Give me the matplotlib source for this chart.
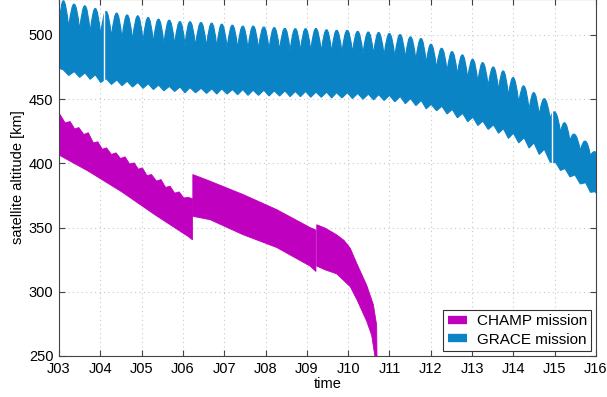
import numpy as np
import matplotlib.pyplot as plt
from matplotlib.path import Path
from matplotlib.patches import PathPatch
from matplotlib.lines import Line2D

# ---- values ----
# GRACE: one entry per hump of the altitude band (decimal years, km)
grace_t = [2003.10, 2003.37, 2003.63, 2003.88, 2004.14, 2004.40, 2004.65, 2004.91,
           2005.16, 2005.41, 2005.67, 2005.93, 2006.17, 2006.44, 2006.70, 2006.94,
           2007.20, 2007.45, 2007.70, 2007.96, 2008.21, 2008.47, 2008.72, 2008.97,
           2009.22, 2009.48, 2009.72, 2009.98, 2010.23, 2010.49, 2010.74, 2011.00,
           2011.26, 2011.51, 2011.77, 2012.01, 2012.27, 2012.52, 2012.77, 2013.02,
           2013.26, 2013.52, 2013.76, 2014.00, 2014.26, 2014.50, 2014.75, 2015.03,
           2015.25, 2015.49, 2015.75, 2015.98]
grace_peak = [526.7, 524.1, 522.8, 520.7, 518.4, 517.1, 515.7, 515.0, 513.7, 512.4,
              511.6, 510.6, 510.4, 509.8, 509.3, 508.5, 507.7, 507.1, 507.1, 506.4,
              505.9, 505.3, 505.1, 505.1, 505.1, 504.2, 503.8, 503.8, 503.0, 502.5,
              502.0, 501.2, 500.4, 498.6, 497.3, 492.8, 489.7, 487.1, 484.5, 481.1,
              478.5, 475.1, 472.0, 466.8, 460.3, 455.1, 450.4, 439.5, 431.5, 422.5,
              417.3, 409.0]
# top of the band between two humps
grace_notch = [506.0, 504.0, 502.0, 500.0, 498.5, 497.0, 496.0, 495.0, 494.0, 493.0,
               492.5, 492.0, 491.5, 491.0, 490.5, 490.0, 489.5, 489.0, 489.0, 488.5,
               488.0, 487.5, 487.5, 487.5, 487.0, 486.5, 486.5, 486.0, 485.5, 485.0,
               484.0, 483.0, 482.0, 480.5, 478.0, 474.0, 471.5, 469.0, 466.0, 463.0,
               460.0, 457.0, 452.5, 447.0, 441.5, 437.5, 435.0, 424.0, 417.5, 410.0,
               406.0]
# bottom of the band under each hump and between humps
grace_base = [473.0, 471.5, 470.5, 469.0, 466.0, 465.0, 464.0, 463.0, 462.0, 461.0,
              460.0, 459.5, 459.0, 458.5, 458.0, 458.0, 457.5, 457.5, 457.0, 457.0,
              456.5, 456.5, 456.0, 456.0, 455.5, 455.5, 455.0, 455.0, 454.5, 454.0,
              453.5, 453.0, 452.0, 450.5, 449.0, 446.0, 444.5, 442.0, 439.0, 436.0,
              433.0, 430.0, 427.0, 423.5, 420.0, 416.0, 411.0, 400.5, 396.0, 391.0,
              385.0, 378.0]
grace_spike = [468.5, 467.0, 465.5, 463.0, 461.5, 460.5, 459.5, 458.5, 457.5, 456.5,
               456.0, 455.0, 455.0, 454.5, 454.0, 454.0, 453.5, 453.0, 453.0, 452.5,
               452.5, 452.0, 452.0, 451.5, 451.5, 451.0, 451.0, 450.5, 450.0, 449.5,
               449.0, 448.0, 446.5, 445.0, 442.5, 441.0, 438.5, 435.5, 432.5, 429.5,
               426.5, 423.5, 419.5, 416.0, 412.0, 407.0, 401.0, 394.5, 389.5, 384.0,
               377.5]
grace_ends_t = [2003.0, 2016.1]
grace_ends_top = [507.0, 403.0]
grace_ends_low = [474.0, 372.0]
grace_gaps = [2004.08, 2014.94]

# CHAMP: three pieces separated by orbit raising manoeuvres
champ_top_t = [[2003.00, 2003.02, 2003.15, 2003.27, 2003.38, 2003.48, 2003.60, 2003.71,
                2003.83, 2003.94, 2004.05, 2004.15, 2004.27, 2004.38, 2004.49, 2004.60,
                2004.71, 2004.82, 2004.92, 2005.02, 2005.13, 2005.24, 2005.36, 2005.47,
                2005.58, 2005.69, 2005.80, 2005.91, 2006.02, 2006.12, 2006.23],
               [2006.24, 2006.66, 2007.46, 2008.27, 2009.08, 2009.22],
               [2009.24, 2009.45, 2009.72, 2009.90, 2010.05, 2010.21, 2010.45, 2010.61,
                2010.69, 2010.70]]
champ_top = [[436.0, 438.3, 431.5, 432.6, 426.8, 427.9, 422.5, 423.9, 416.0, 416.8,
              411.0, 412.1, 407.0, 408.2, 403.8, 405.1, 399.5, 400.4, 395.5, 396.5,
              390.5, 391.3, 386.2, 387.4, 381.3, 382.2, 376.8, 377.8, 373.0, 373.6, 372.5],
             [391.3, 386.1, 375.7, 364.0, 350.0, 348.0],
             [352.2, 349.5, 344.4, 340.0, 334.0, 322.0, 305.0, 290.0, 274.0, 245.0]]
champ_low_t = [[2003.00, 2003.71, 2004.52, 2005.32, 2006.13, 2006.23],
               [2006.24, 2006.66, 2007.46, 2008.27, 2009.08, 2009.22],
               [2009.24, 2009.45, 2009.72, 2010.05, 2010.21, 2010.45, 2010.57, 2010.67]]
champ_low = [[406.5, 393.9, 377.8, 360.0, 343.0, 340.5],
             [358.8, 356.1, 344.4, 334.5, 320.0, 315.8],
             [320.0, 317.0, 314.0, 304.0, 294.0, 277.0, 266.0, 245.0]]

xtick_pos = [2003, 2004, 2005, 2006, 2007, 2008, 2009, 2010, 2011, 2012, 2013, 2014, 2015, 2016]
xtick_labels = ['J03', 'J04', 'J05', 'J06', 'J07', 'J08', 'J09', 'J10', 'J11', 'J12',
                'J13', 'J14', 'J15', 'J16']
ytick_pos = [250, 300, 350, 400, 450, 500]
series_names = ['CHAMP mission', 'GRACE mission']
champ_color = '#bf00bf'
grace_color = '#0b84c6'

plt.rcParams['font.family'] = ['Liberation Sans', 'DejaVu Sans']

fig = plt.figure(figsize=(6.07, 3.97), dpi=100)
ax = fig.add_axes([0.0972, 0.1033, 0.8847, 0.8992])

# CHAMP band
for tt, top, lt, low in zip(champ_top_t, champ_top, champ_low_t, champ_low):
    ax.fill(np.r_[tt, lt[::-1]], np.r_[top, low[::-1]], color=champ_color, lw=0.6, zorder=2)

# GRACE band: humps drawn as quadratic curves through the peak values
gt = np.array(grace_t)
mid = (gt[:-1] + gt[1:]) / 2
top_x = np.r_[grace_ends_t[0], mid, grace_ends_t[1]]
top_y = np.r_[grace_ends_top[0], grace_notch, grace_ends_top[1]]
verts = [(top_x[0], top_y[0])]
codes = [Path.MOVETO]
for i in range(len(gt)):
    ctrl = 2 * grace_peak[i] - (top_y[i] + top_y[i + 1]) / 2
    verts += [(gt[i], ctrl), (top_x[i + 1], top_y[i + 1])]
    codes += [Path.CURVE3, Path.CURVE3]
low_pts = [(grace_ends_t[0], grace_ends_low[0])]
for i in range(len(gt)):
    low_pts.append((gt[i], grace_base[i]))
    if i < len(mid):
        low_pts.append((mid[i], grace_spike[i]))
low_pts.append((grace_ends_t[1], grace_ends_low[1]))
for p in reversed(low_pts):
    verts.append(p)
    codes.append(Path.LINETO)
verts.append(verts[0])
codes.append(Path.CLOSEPOLY)
ax.add_patch(PathPatch(Path(verts, codes), facecolor=grace_color, edgecolor=grace_color,
                       lw=0.8, zorder=2))

# data gaps in the GRACE record
lx = [p[0] for p in low_pts]
ly = [p[1] for p in low_pts]
ax.vlines(grace_gaps, np.interp(grace_gaps, lx, ly) - 6, max(grace_peak) + 5,
          colors='white', lw=1.0, zorder=2.2)

ax.set_xlim(2003, 2016)
ax.set_ylim(250, 528)
ax.set_xticks(xtick_pos)
ax.set_xticklabels(xtick_labels)
ax.set_yticks(ytick_pos)
ax.grid(True, linestyle=(0, (1, 3)), color='#c8c8c8', lw=0.8)
ax.set_axisbelow(True)
ax.tick_params(direction='in', top=True, right=True, length=4, width=0.8,
               color='#444444', labelsize=10.5, pad=4)
for s in ax.spines.values():
    s.set_color('#444444')
    s.set_linewidth(0.8)

ax.set_xlabel('time', fontsize=10.5, labelpad=1)
ax.set_ylabel('satellite altitude [km]', fontsize=10.5, labelpad=3)

handles = [Line2D([], [], color=champ_color, lw=6, solid_capstyle='butt'),
           Line2D([], [], color=grace_color, lw=6, solid_capstyle='butt')]
leg = ax.legend(handles, series_names, loc='lower right', fontsize=11, fancybox=False,
                framealpha=1, edgecolor='#333333', handlelength=1.3, handletextpad=0.6,
                borderaxespad=0.3, borderpad=0.3, labelspacing=0.3)
leg.get_frame().set_linewidth(0.8)

fig.savefig('out.png', dpi=100)
